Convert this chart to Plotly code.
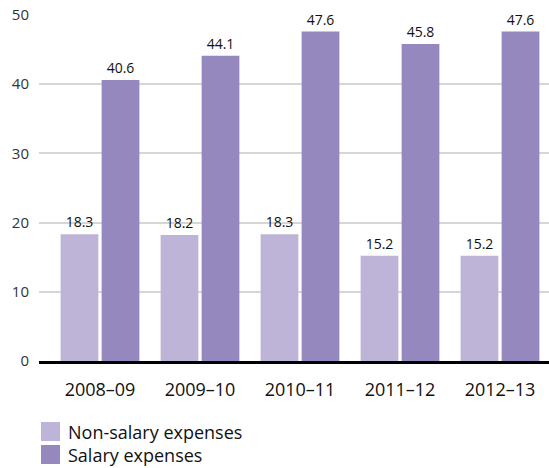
import plotly.graph_objects as go

years = ["2008–09", "2009–10", "2010–11", "2011–12", "2012–13"]
non_salary = [18.3, 18.2, 18.3, 15.2, 15.2]
salary = [40.6, 44.1, 47.6, 45.8, 47.6]
series_names = ["Non-salary expenses", "Salary expenses"]
colors = ["#BDB4D7", "#9488BF"]

FONT = "Open Sans, sans-serif"

fig = go.Figure()
for name, vals, col in zip(series_names, [non_salary, salary], colors):
    fig.add_trace(go.Bar(
        x=years, y=vals, name=name, marker=dict(color=col, line=dict(width=0)),
        text=[f"{v:.1f}" for v in vals], textposition="outside",
        textfont=dict(family=FONT, size=14, color="#111111"),
        cliponaxis=False, showlegend=False,
    ))

W, H = 549, 468
L, R, T, B = 39, 0, 15, 107

fig.update_layout(
    width=W, height=H,
    margin=dict(l=L, r=R, t=T, b=B, pad=0),
    paper_bgcolor="white", plot_bgcolor="white",
    barmode="group", bargap=0.18, bargroupgap=0.08,
    font=dict(family=FONT, color="#222222"),
    uniformtext=dict(minsize=14, mode="show"),
    xaxis=dict(
        range=[-0.61, 4.49], showgrid=False, showline=True, linecolor="#000000",
        linewidth=3, ticks="outside", ticklen=10, tickcolor="rgba(0,0,0,0)",
        tickfont=dict(family=FONT, size=18, color="#111111"), fixedrange=True,
    ),
    yaxis=dict(
        range=[0, 50], dtick=10, showgrid=True, gridcolor="#D6D6D6", gridwidth=2,
        zeroline=False, ticks="outside", ticklen=6, tickcolor="rgba(0,0,0,0)",
        tickfont=dict(family=FONT, size=15, color="#333333"),
    ),
)

# Legend drawn as swatches with labels beneath the plot
sw = 19
legend_top = [422, 445]
for name, col, top in zip(series_names, colors, legend_top):
    fig.add_shape(type="rect", xref="paper", yref="paper",
                  x0=(41 - L) / (W - L - R), x1=(41 + sw - L) / (W - L - R),
                  y0=(H - B - (top + sw)) / (H - T - B), y1=(H - B - top) / (H - T - B),
                  fillcolor=col, line=dict(width=0))
    fig.add_annotation(xref="paper", yref="paper",
                       x=(66 - L) / (W - L - R), y=(H - B - (top + sw / 2)) / (H - T - B),
                       text=name, showarrow=False, xanchor="left", yanchor="middle",
                       font=dict(family=FONT, size=18, color="#111111"))

fig.write_html("out.html")
